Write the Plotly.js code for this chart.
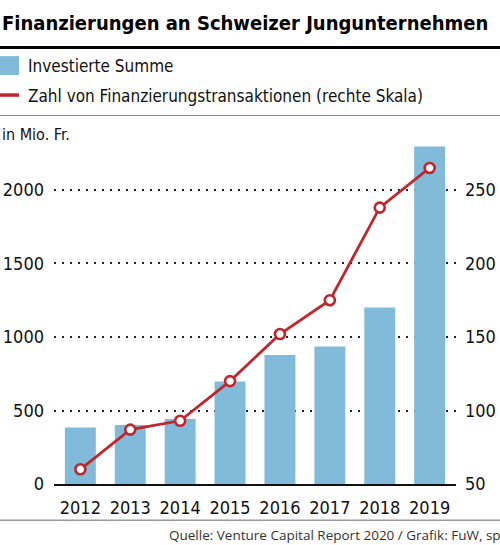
<!DOCTYPE html>
<html>
<head>
<meta charset="utf-8">
<script src="https://cdn.plot.ly/plotly-3.0.1.min.js"></script>
<style>
html,body{margin:0;padding:0;background:#fff;}
#chart{width:500px;height:545px;}
#chart svg text{font-stretch:condensed !important;}
#chart svg text.src{font-stretch:normal !important;}
</style>
</head>
<body>
<div id="chart"></div>
<script>
const years = ['2012','2013','2014','2015','2016','2017','2018','2019'];
const investedSum = [385, 401, 442, 698, 877, 936, 1201, 2296];
const transactions = [60, 87, 93, 120, 152, 175, 238, 265];
const leftTicks = [0, 500, 1000, 1500, 2000];
const rightTicks = [50, 100, 150, 200, 250];

const W = 500, H = 545;
const L = 54, R = 456, T = 140, B = 484.3;
const px = x => (x - L) / (R - L);
const py = y => (B - y) / (B - T);
const FONT = '"DejaVu Sans Condensed", "DejaVu Sans", sans-serif';
const BLUE = '#82bada';
const RED = '#c0272d';

const traces = [
  {
    type: 'bar', x: years, y: investedSum, name: 'Investierte Summe',
    marker: {color: BLUE, line: {width: 0}}, hoverinfo: 'skip'
  },
  {
    type: 'scatter', mode: 'lines+markers', x: years, y: transactions, yaxis: 'y2',
    name: 'Zahl von Finanzierungstransaktionen (rechte Skala)',
    line: {color: RED, width: 2.8},
    marker: {size: 10, color: '#fff', line: {color: RED, width: 2.6}},
    cliponaxis: false, hoverinfo: 'skip'
  }
];

const layout = {
  width: W, height: H,
  margin: {l: L, r: W - R, t: T, b: H - B, pad: 0},
  paper_bgcolor: '#fff', plot_bgcolor: 'rgba(0,0,0,0)',
  showlegend: false,
  bargap: 0.38,
  font: {family: FONT, color: '#111', size: 18},
  xaxis: {
    type: 'category', showgrid: false, zeroline: false,
    showline: true, linecolor: '#111', linewidth: 2,
    ticks: '', tickangle: 0, tickfont: {family: FONT, size: 18, color: '#111'},
    ticklabelstandoff: 6, fixedrange: true
  },
  yaxis: {
    range: [0, 2340], tickvals: leftTicks, ticktext: leftTicks.map(String),
    showgrid: true, gridcolor: '#222', griddash: '2px,6px', gridwidth: 2,
    zeroline: false, showline: false, ticks: '',
    tickfont: {family: FONT, size: 18, color: '#111'},
    ticklabelstandoff: 9, fixedrange: true
  },
  yaxis2: {
    overlaying: 'y', side: 'right', range: [50, 284],
    tickvals: rightTicks, ticktext: rightTicks.map(String),
    showgrid: false, zeroline: false, showline: false, ticks: '',
    tickfont: {family: FONT, size: 18, color: '#111'},
    ticklabelstandoff: 8, fixedrange: true
  },
  shapes: [
    {type: 'line', xref: 'paper', yref: 'paper', x0: px(0), x1: px(500), y0: py(47.5), y1: py(47.5), line: {color: '#000', width: 3}},
    {type: 'rect', xref: 'paper', yref: 'paper', x0: px(0), x1: px(19), y0: py(75), y1: py(56), fillcolor: BLUE, line: {width: 0}},
    {type: 'line', xref: 'paper', yref: 'paper', x0: px(0), x1: px(19), y0: py(95), y1: py(95), line: {color: RED, width: 3.5}},
    {type: 'line', xref: 'paper', yref: 'paper', x0: px(0), x1: px(500), y0: py(115.5), y1: py(115.5), line: {color: '#888', width: 1}},
    {type: 'line', xref: 'paper', yref: 'paper', x0: px(0), x1: px(500), y0: py(520.5), y1: py(520.5), line: {color: '#666', width: 1}}
  ],
  annotations: [
    {xref: 'paper', yref: 'paper', x: px(0), y: py(23), xanchor: 'left', yanchor: 'middle', showarrow: false,
     text: '<b>Finanzierungen an Schweizer Jungunternehmen</b>', font: {family: FONT, size: 20, color: '#000'}},
    {xref: 'paper', yref: 'paper', x: px(26), y: py(66), xanchor: 'left', yanchor: 'middle', showarrow: false,
     text: 'Investierte Summe', font: {family: FONT, size: 17, color: '#111'}},
    {xref: 'paper', yref: 'paper', x: px(26), y: py(96), xanchor: 'left', yanchor: 'middle', showarrow: false,
     text: 'Zahl von Finanzierungstransaktionen (rechte Skala)', font: {family: FONT, size: 17, color: '#111'}},
    {xref: 'paper', yref: 'paper', x: px(0), y: py(134), xanchor: 'left', yanchor: 'middle', showarrow: false,
     text: 'in Mio. Fr.', font: {family: FONT, size: 16, color: '#111'}},
    {xref: 'paper', yref: 'paper', x: px(503), y: py(535), xanchor: 'right', yanchor: 'middle', showarrow: false,
     text: 'Quelle: Venture Capital Report 2020 / Grafik: FuW, sp', font: {family: '"Open Sans", "Noto Sans", sans-serif', size: 13.5, color: '#333'}}
  ]
};

Plotly.newPlot('chart', traces, layout, {displayModeBar: false, staticPlot: true}).then(() => {
  document.querySelectorAll('#chart .annotation-text').forEach(t => {
    if (t.textContent.indexOf('Quelle') === 0) t.classList.add('src');
  });
});
</script>
</body>
</html>
